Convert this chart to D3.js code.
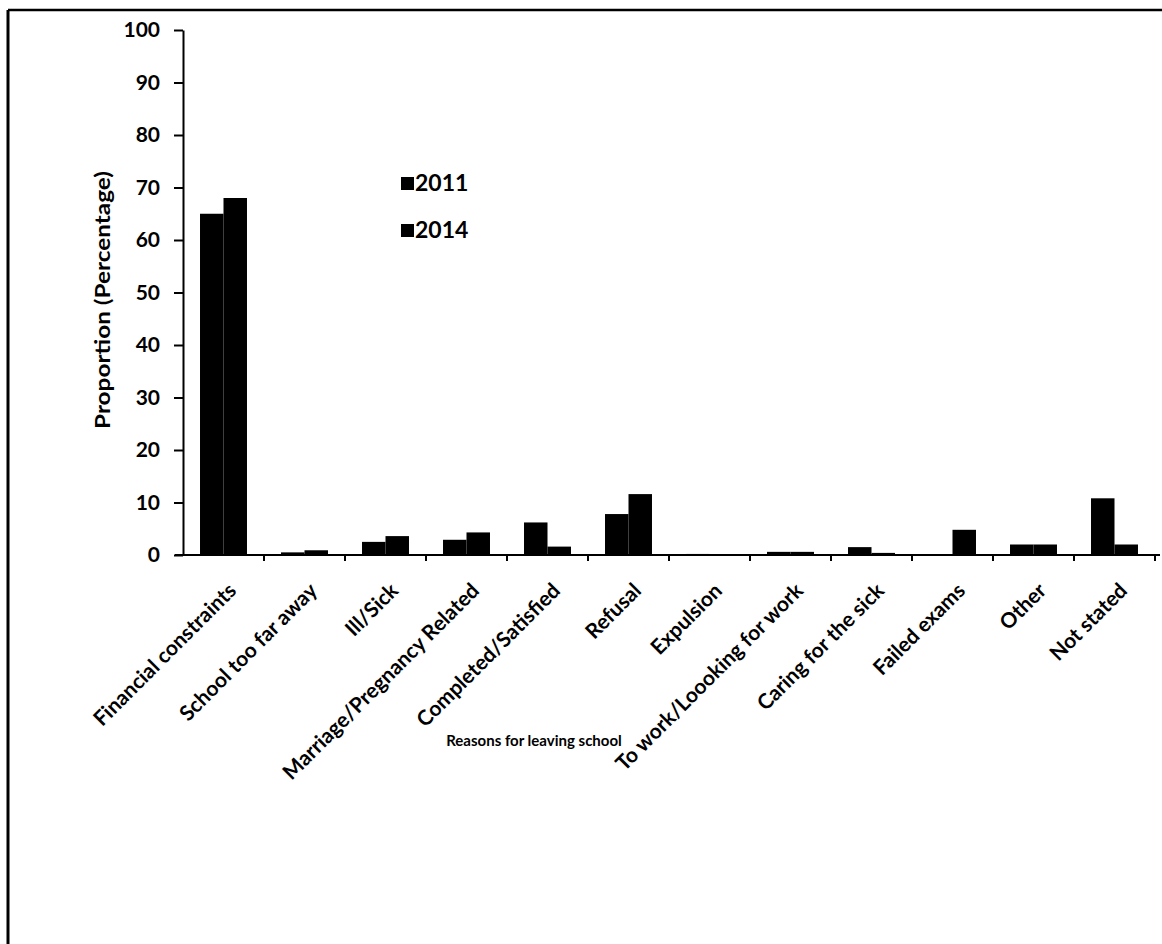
<!DOCTYPE html>
<html>
<head>
<meta charset="utf-8">
<script src="https://cdn.jsdelivr.net/npm/d3@7"></script>
<style>
  html, body { margin: 0; padding: 0; background: #fff; }
  svg { display: block; }
  text { font-family: Lato, "Open Sans", sans-serif; font-weight: bold; fill: #000; }
</style>
</head>
<body>
<svg id="chart" width="1162" height="944"></svg>
<script>
const categories = [
  "Financial constraints", "School too far away", "Ill/Sick",
  "Marriage/Pregnancy Related", "Completed/Satisfied", "Refusal",
  "Expulsion", "To work/Loooking for work", "Caring for the sick",
  "Failed exams", "Other", "Not stated"
];
const seriesNames = ["2011", "2014"];
const values2011 = [65, 0.5, 2.5, 2.9, 6.2, 7.8, 0.2, 0.6, 1.5, 0.1, 2.0, 10.8];
const values2014 = [68, 0.9, 3.6, 4.3, 1.6, 11.6, 0.1, 0.6, 0.4, 4.8, 2.0, 2.0];
const yTicks = [0, 10, 20, 30, 40, 50, 60, 70, 80, 90, 100];
const yTitle = "Proportion (Percentage)";
const xTitle = "Reasons for leaving school";

const svg = d3.select("#chart");

// frame (top and left lines)
svg.append("line").attr("x1", 8).attr("y1", 10).attr("x2", 1162).attr("y2", 10)
  .attr("stroke", "#000").attr("stroke-width", 2.5);
svg.append("line").attr("x1", 8).attr("y1", 10).attr("x2", 8).attr("y2", 944)
  .attr("stroke", "#000").attr("stroke-width", 3);

const pLeft = 183, pRight = 1155, pTop = 30, pBottom = 555;

const y = d3.scaleLinear().domain([0, 100]).range([pBottom, pTop]);
const x0 = d3.scaleBand().domain(categories).range([pLeft, pRight])
  .paddingInner(0.42).paddingOuter(0.21);
const x1 = d3.scaleBand().domain(seriesNames).range([0, x0.bandwidth()]);

const rows = categories.map((c, i) => ({ c, vals: [values2011[i], values2014[i]] }));

// bars
const g = svg.append("g");
g.selectAll("g.grp").data(rows).join("g")
  .attr("class", "grp")
  .attr("transform", d => `translate(${x0(d.c)},0)`)
  .selectAll("rect").data(d => d.vals.map((v, k) => ({ k: seriesNames[k], v })))
  .join("rect")
  .attr("x", d => x1(d.k))
  .attr("width", x1.bandwidth())
  .attr("y", d => y(d.v))
  .attr("height", d => y(0) - y(d.v))
  .attr("fill", "#000");

// y axis
const yAxis = svg.append("g").attr("transform", `translate(${pLeft},0)`)
  .call(d3.axisLeft(y).tickValues(yTicks).tickSize(9).tickSizeOuter(0).tickPadding(14));
yAxis.select(".domain").attr("stroke-width", 2);
yAxis.selectAll(".tick line").attr("stroke-width", 2);
yAxis.selectAll("text").style("font-size", "21px").style("font-family", "Lato, sans-serif")
  .style("font-weight", "bold");

// x axis
svg.append("line").attr("x1", pLeft - 8).attr("x2", 1160)
  .attr("y1", pBottom).attr("y2", pBottom).attr("stroke", "#000").attr("stroke-width", 2);
const step = x0.step();
const boundaries = categories.map((c, i) => pLeft + step * (i + 1));
svg.selectAll("line.xtick").data(boundaries).join("line")
  .attr("class", "xtick")
  .attr("x1", d => d).attr("x2", d => d)
  .attr("y1", pBottom).attr("y2", pBottom + 6)
  .attr("stroke", "#000").attr("stroke-width", 2);

// x tick labels
svg.selectAll("text.xlab").data(categories).join("text")
  .attr("class", "xlab")
  .attr("text-anchor", "end")
  .attr("transform", d => `translate(${x0(d) + x0.bandwidth() / 2 + 14},${pBottom + 37}) rotate(-45)`)
  .style("font-size", "21px")
  .text(d => d);

// axis titles
svg.append("text")
  .attr("transform", `translate(110,300) rotate(-90)`)
  .attr("text-anchor", "middle")
  .style("font-size", "21px")
  .attr("textLength", 258)
  .attr("lengthAdjust", "spacingAndGlyphs")
  .text(yTitle);
svg.append("text")
  .attr("x", 534).attr("y", 746)
  .attr("text-anchor", "middle")
  .style("font-size", "15px")
  .text(xTitle);

// legend
const legend = svg.append("g").attr("transform", "translate(401,0)");
const legY = [177, 224];
seriesNames.forEach((s, i) => {
  legend.append("rect").attr("x", 0).attr("y", legY[i]).attr("width", 13).attr("height", 13).attr("fill", "#000");
  legend.append("text").attr("x", 14).attr("y", legY[i] + 14).style("font-size", "23px").text(s);
});
</script>
</body>
</html>
